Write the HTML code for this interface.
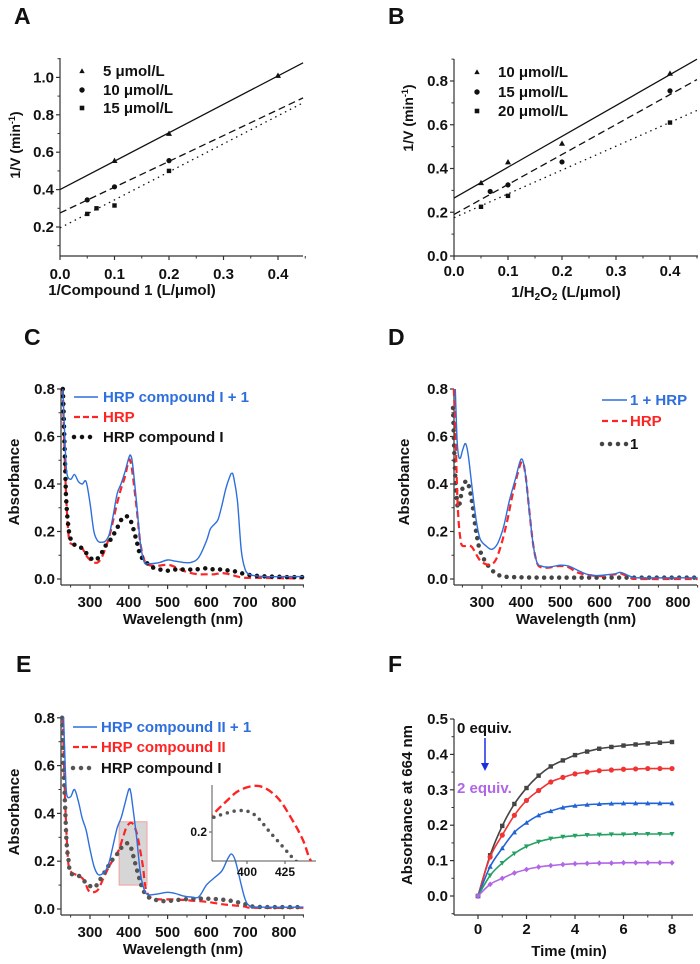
<!DOCTYPE html>
<html><head><meta charset="utf-8"><style>
html,body{margin:0;padding:0;background:#fff;}
svg{display:block;font-family:"Liberation Sans",Arial,sans-serif;font-weight:bold;}
</style></head><body>
<svg id="fig" width="700" height="964" viewBox="0 0 700 964" xmlns="http://www.w3.org/2000/svg"></svg>
<script>
// ---------- Panel A data ----------
const aX5=[0.1,0.2,0.4], aY5=[0.555,0.70,1.01];
const aX10=[0.05,0.1,0.2], aY10=[0.345,0.415,0.555];
const aX15=[0.05,0.067,0.1,0.2], aY15=[0.27,0.30,0.315,0.50];
const aIntercepts=[0.40,0.275,0.195], aSlopes=[1.52,1.38,1.5];
const aLegend=["5   μmol/L","10 μmol/L","15 μmol/L"];
// ---------- Panel B data ----------
const bX10=[0.05,0.1,0.2,0.4], bY10=[0.335,0.43,0.515,0.835];
const bX15=[0.067,0.1,0.2,0.4], bY15=[0.295,0.325,0.43,0.755];
const bX20=[0.05,0.1,0.4], bY20=[0.225,0.275,0.61];
const bIntercepts=[0.265,0.19,0.175], bSlopes=[1.41,1.37,1.09];
const bLegend=["10 μmol/L","15 μmol/L","20 μmol/L"];
const xTicksAB=[0,0.1,0.2,0.3,0.4];
// ---------- Panel C data ----------
const cBlueW=[230,235,240,250,260,270,280,290,300,310,320,330,340,350,360,370,380,390,400,405,410,420,430,440,450,460,480,500,520,540,560,580,600,610,620,630,640,650,660,665,670,680,690,700,710,720,750,800,850];
const cBlueA=[0.8,0.6,0.45,0.42,0.44,0.41,0.40,0.41,0.32,0.2,0.16,0.155,0.16,0.19,0.27,0.36,0.40,0.45,0.51,0.52,0.48,0.32,0.15,0.07,0.065,0.065,0.07,0.08,0.075,0.07,0.07,0.09,0.16,0.21,0.23,0.25,0.31,0.38,0.43,0.445,0.43,0.33,0.12,0.04,0.02,0.015,0.01,0.01,0.01];
const cRedW=[230,235,240,245,250,260,270,280,290,300,310,320,330,340,350,360,370,380,390,400,405,410,420,430,440,450,470,500,520,540,560,580,600,620,640,660,680,700,720,800,850];
const cRedA=[0.8,0.5,0.3,0.18,0.15,0.145,0.14,0.13,0.1,0.08,0.07,0.07,0.09,0.13,0.18,0.25,0.32,0.38,0.43,0.5,0.49,0.44,0.3,0.15,0.08,0.06,0.055,0.06,0.05,0.035,0.025,0.02,0.02,0.02,0.025,0.02,0.01,0.005,0.005,0.003,0.003];
const cBlkW=[230,232,234,236,238,240,243,247,255,270,285,300,315,330,340,355,365,375,385,400,410,420,430,445,460,480,500,520,540,570,600,620,640,660,680,700,720,740,760,780,800,820,850];
const cBlkA=[0.8,0.7,0.58,0.47,0.36,0.3,0.24,0.19,0.15,0.14,0.12,0.09,0.08,0.11,0.14,0.17,0.2,0.23,0.26,0.26,0.22,0.16,0.1,0.07,0.05,0.04,0.035,0.04,0.04,0.04,0.045,0.04,0.04,0.035,0.03,0.02,0.015,0.012,0.01,0.01,0.008,0.008,0.008];
// ---------- Panel D data ----------
const dBlueW=[232,236,240,245,250,258,265,275,285,295,310,325,340,355,370,385,400,410,420,430,440,450,470,500,520,540,560,580,600,620,640,650,660,680,700,850];
const dBlueA=[0.8,0.6,0.52,0.51,0.54,0.57,0.52,0.38,0.25,0.17,0.14,0.125,0.15,0.22,0.33,0.42,0.505,0.45,0.3,0.15,0.07,0.055,0.05,0.058,0.055,0.04,0.025,0.015,0.015,0.018,0.022,0.028,0.025,0.01,0.005,0.005];
const dRedW=[228,232,236,240,245,250,270,280,290,300,320,335,350,365,380,400,410,420,430,440,450,470,500,520,540,560,580,600,620,640,650,660,680,700,850];
const dRedA=[0.8,0.65,0.4,0.25,0.17,0.14,0.14,0.12,0.09,0.07,0.06,0.08,0.15,0.25,0.37,0.49,0.45,0.3,0.15,0.07,0.05,0.048,0.055,0.05,0.03,0.02,0.015,0.012,0.015,0.02,0.025,0.02,0.005,0.0,0.0];
const dBlkW=[226,230,235,240,250,258,265,275,285,295,310,330,350,380,450,600,850];
const dBlkA=[0.72,0.5,0.35,0.3,0.38,0.41,0.4,0.32,0.2,0.12,0.07,0.03,0.012,0.008,0.006,0.006,0.006];
// ---------- Panel E data ----------
const eBlueW=[232,236,240,250,260,270,280,290,300,310,320,330,340,350,360,370,380,390,400,405,410,420,430,440,450,470,500,520,540,560,580,600,620,640,655,665,675,690,700,710,730,850];
const eBlueA=[0.8,0.6,0.48,0.47,0.5,0.45,0.38,0.33,0.25,0.18,0.145,0.145,0.16,0.2,0.27,0.34,0.38,0.44,0.5,0.49,0.43,0.3,0.15,0.08,0.06,0.062,0.07,0.065,0.055,0.05,0.05,0.1,0.13,0.16,0.21,0.23,0.2,0.1,0.04,0.015,0.008,0.008];
const eRedW=[230,235,240,245,255,270,285,295,305,320,335,350,365,375,385,395,408,420,430,437,442,450,460,480,520,560,600,640,670,700,720,850];
const eRedA=[0.8,0.5,0.3,0.18,0.15,0.14,0.12,0.08,0.07,0.08,0.13,0.18,0.22,0.25,0.3,0.345,0.36,0.32,0.24,0.17,0.1,0.06,0.045,0.04,0.04,0.035,0.03,0.02,0.015,0.01,0.005,0.005];
const eBlkW=[228,232,236,240,245,250,270,290,310,325,340,355,370,380,395,405,415,425,432,440,455,480,500,540,580,620,660,700,720,760,850];
const eBlkA=[0.8,0.6,0.42,0.27,0.2,0.15,0.14,0.11,0.09,0.12,0.16,0.2,0.23,0.255,0.275,0.26,0.2,0.14,0.1,0.07,0.045,0.035,0.033,0.04,0.043,0.042,0.035,0.02,0.01,0.008,0.008];
const xTicksSpec=[300,400,500,600,700,800];
const yTicksSpec=[0,0.2,0.4,0.6,0.8];
// ---------- Panel F data ----------
const fTime=[0,0.5,1,1.5,2,2.5,3,3.5,4,4.5,5,5.5,6,6.5,7,7.5,8];
const f0=[0,0.115,0.198,0.26,0.305,0.34,0.366,0.383,0.398,0.408,0.416,0.421,0.425,0.428,0.431,0.433,0.435];
const f1=[0,0.11,0.172,0.228,0.27,0.298,0.322,0.335,0.345,0.35,0.354,0.356,0.358,0.359,0.36,0.36,0.36];
const f2=[0,0.083,0.135,0.18,0.207,0.228,0.24,0.25,0.255,0.258,0.26,0.261,0.262,0.262,0.262,0.262,0.262];
const f3=[0,0.058,0.093,0.12,0.14,0.153,0.162,0.167,0.17,0.172,0.173,0.174,0.174,0.175,0.175,0.175,0.175];
const f4=[0,0.033,0.05,0.065,0.075,0.082,0.086,0.089,0.091,0.092,0.093,0.093,0.094,0.094,0.094,0.094,0.094];
const fXTicks=[0,2,4,6,8], fYTicks=[0,0.1,0.2,0.3,0.4,0.5];

const NS="http://www.w3.org/2000/svg";
const svg=document.getElementById('fig');
function mk(tag,parent,attrs){const e=document.createElementNS(NS,tag);for(const k in attrs)e.setAttribute(k,attrs[k]);parent.appendChild(e);return e;}
function group(parent,name){const g=mk('g',parent,{});


return g;}
function txt(parent,x,y,s,size,name,anchor,fill,rot){const t=mk('text',parent,{x:x,y:y,'font-size':size,'text-anchor':anchor||'start',fill:fill||'#111'});
if(rot)t.setAttribute('transform','rotate(-90 '+x+' '+y+')');
t.textContent=s;


return t;}
function ln(parent,x1,y1,x2,y2,stroke,w,dash,name){const l=mk('line',parent,{x1:x1,y1:y1,x2:x2,y2:y2,stroke:stroke,'stroke-width':w});
if(dash)l.setAttribute('stroke-dasharray',dash);


return l;}
function smooth(pts){let d='M'+pts[0][0].toFixed(1)+','+pts[0][1].toFixed(1);
for(let i=0;i<pts.length-1;i++){const p0=pts[Math.max(0,i-1)],p1=pts[i],p2=pts[i+1],p3=pts[Math.min(pts.length-1,i+2)];
const c1=[p1[0]+(p2[0]-p0[0])/6,p1[1]+(p2[1]-p0[1])/6],c2=[p2[0]-(p3[0]-p1[0])/6,p2[1]-(p3[1]-p1[1])/6];
d+='C'+c1[0].toFixed(1)+','+c1[1].toFixed(1)+' '+c2[0].toFixed(1)+','+c2[1].toFixed(1)+' '+p2[0].toFixed(1)+','+p2[1].toFixed(1);}
return d;}
function curve(parent,xs,ys,sx,sy,stroke,w,dash,name,cap){const pts=xs.map((v,i)=>[sx(v),sy(ys[i])]);
const p=mk('path',parent,{d:smooth(pts),fill:'none',stroke:stroke,'stroke-width':w,'stroke-linejoin':'round'});
if(dash)p.setAttribute('stroke-dasharray',dash);
if(cap)p.setAttribute('stroke-linecap',cap);


return p;}
function marker(parent,type,x,y,r,fill,name){let e;
if(type==='tri')e=mk('polygon',parent,{points:`${x},${y-r} ${x-r},${y+r*0.8} ${x+r},${y+r*0.8}`,fill:fill});
else if(type==='dtri')e=mk('polygon',parent,{points:`${x},${y+r} ${x-r},${y-r*0.8} ${x+r},${y-r*0.8}`,fill:fill});
else if(type==='sq')e=mk('rect',parent,{x:x-r*0.85,y:y-r*0.85,width:r*1.7,height:r*1.7,fill:fill});
else if(type==='dia')e=mk('polygon',parent,{points:`${x},${y-r*1.1} ${x+r},${y} ${x},${y+r*1.1} ${x-r},${y}`,fill:fill});
else e=mk('circle',parent,{cx:x,cy:y,r:r,fill:fill});


return e;}
function axes(g,o){
 ln(g,o.xl,o.yb,o.xr,o.yb,'#333',1.2,null,'x-axis');
 ln(g,o.xl,o.yb,o.xl,o.ytop,'#333',1.2,null,'y-axis');
 o.xt.forEach(v=>{const x=o.sx(v);ln(g,x,o.yb,x,o.yb+4,'#333',1.2,null,'x-tick');
  txt(g,x,o.xlabY,o.xfmt(v),o.fs,'x-tick-label','middle');});
 o.xm.forEach(v=>{const x=o.sx(v);ln(g,x,o.yb,x,o.yb+2.5,'#333',1,null,'x-minor-tick');});
 o.yticks.forEach(v=>{const y=o.sy(v);ln(g,o.xl-4,y,o.xl,y,'#333',1.2,null,'y-tick');
  txt(g,o.xl-6,y+5,o.yfmt(v),o.fs,'y-tick-label','end');});
 o.ym.forEach(v=>{const y=o.sy(v);ln(g,o.xl-2.5,y,o.xl,y,'#333',1,null,'y-minor-tick');});
}
const f1d=v=>v.toFixed(1);
function range(a,b,s){const r=[];for(let v=a;v<=b+1e-9;v+=s)r.push(+v.toFixed(4));return r;}

// ================= Panel A =================
(function(){const g=group(svg,'panel-a');
const sx=v=>60+v*545, sy=v=>264.4-187*v;
txt(g,14,24,'A',23,'panel-label-a');
axes(g,{xl:60,xr:303,yb:256,ytop:58,sx,sy,xt:xTicksAB,xm:range(0.05,0.45,0.1),yticks:[0.2,0.4,0.6,0.8,1.0],ym:range(0.1,1.1,0.2),xfmt:f1d,yfmt:f1d,xlabY:279,fs:15});
txt(g,132,295,'1/Compound 1 (L/μmol)',15,'x-axis-title','middle');
const yt=txt(g,20,145,'1/V (min',14,'y-axis-title','middle','#111',true);
const ts=mk('tspan',yt,{'font-size':9,dy:-5});ts.textContent='-1';const ts2=mk('tspan',yt,{dy:5});ts2.textContent=')';
const styles=[null,'7 4','1.5 4'];
for(let i=0;i<3;i++){ln(g,sx(0),sy(aIntercepts[i]),sx(0.446),sy(aIntercepts[i]+aSlopes[i]*0.446),'#111',1.3,styles[i],'fit-line-'+i);}
aX5.forEach((v,i)=>marker(g,'tri',sx(v),sy(aY5[i]),3,'#111','point-5um'));
aX10.forEach((v,i)=>marker(g,'circ',sx(v),sy(aY10[i]),2.6,'#111','point-10um'));
aX15.forEach((v,i)=>marker(g,'sq',sx(v),sy(aY15[i]),2.6,'#111','point-15um'));
const lt=['tri','circ','sq'],ly=[71,90,108];
for(let i=0;i<3;i++){marker(g,lt[i],82,ly[i],2.7,'#111','legend-marker');txt(g,103,ly[i]+5,aLegend[i],15,'legend-entry');}
})();

// ================= Panel B =================
(function(){const g=group(svg,'panel-b');
const sx=v=>454+v*540, sy=v=>256-v*218.75;
txt(g,388,24,'B',23,'panel-label-b');
axes(g,{xl:454,xr:698,yb:256,ytop:59,sx,sy,xt:xTicksAB,xm:range(0.05,0.45,0.1),yticks:[0,0.2,0.4,0.6,0.8],ym:range(0.1,0.9,0.2),xfmt:f1d,yfmt:f1d,xlabY:276,fs:15});
const xt=txt(g,566,297,'1/H',15,'x-axis-title','middle');
let s=mk('tspan',xt,{'font-size':10,dy:3});s.textContent='2';s=mk('tspan',xt,{dy:-3});s.textContent='O';s=mk('tspan',xt,{'font-size':10,dy:3});s.textContent='2';s=mk('tspan',xt,{dy:-3});s.textContent=' (L/μmol)';
const yt=txt(g,413,118,'1/V (min',14,'y-axis-title','middle','#111',true);
let t1=mk('tspan',yt,{'font-size':9,dy:-5});t1.textContent='-1';t1=mk('tspan',yt,{dy:5});t1.textContent=')';
const styles=[null,'7 4','1.5 4'];
for(let i=0;i<3;i++){ln(g,sx(0),sy(bIntercepts[i]),sx(0.45),sy(bIntercepts[i]+bSlopes[i]*0.45),'#111',1.3,styles[i],'fit-line-'+i);}
bX10.forEach((v,i)=>marker(g,'tri',sx(v),sy(bY10[i]),3,'#111','point-10um'));
bX15.forEach((v,i)=>marker(g,'circ',sx(v),sy(bY15[i]),2.6,'#111','point-15um'));
bX20.forEach((v,i)=>marker(g,'sq',sx(v),sy(bY20[i]),2.6,'#111','point-20um'));
const lt=['tri','circ','sq'],ly=[72,92,111];
for(let i=0;i<3;i++){marker(g,lt[i],477,ly[i],2.7,'#111','legend-marker');txt(g,498,ly[i]+5,bLegend[i],15,'legend-entry');}
})();

const BLUE='#2d6fdc', RED='#ff2424';
function specAxes(g,yAxisX,sx,sy,labY,ybAxis,ytop,xr){
 axes(g,{xl:yAxisX,xr:xr,yb:ybAxis,ytop:ytop,sx,sy,xt:xTicksSpec,xm:range(250,850,100),yticks:yTicksSpec,ym:range(0.1,0.7,0.2),xfmt:v=>String(v),yfmt:f1d,xlabY:labY,fs:15});
}
// ================= Panel C =================
(function(){const g=group(svg,'panel-c');
const sx=v=>90+(v-300)*0.388, sy=v=>579-v*237.5;
txt(g,24,345,'C',23,'panel-label-c');
specAxes(g,61,sx,sy,607,585,389,304);
txt(g,183,624,'Wavelength (nm)',15,'x-axis-title','middle');
txt(g,19,482,'Absorbance',15,'y-axis-title','middle','#111',true);
curve(g,cRedW,cRedA,sx,sy,RED,2.2,'7 4','series-hrp');
curve(g,cBlkW,cBlkA,sx,sy,'#111',4.5,'0 7.5','series-hrp-compound-i','round');
curve(g,cBlueW,cBlueA,sx,sy,BLUE,1.4,null,'series-hrp-compound-i-plus-1');
ln(g,74,397,98,397,BLUE,1.5,null,'legend-line');txt(g,103,402,'HRP compound I + 1',15,'legend-entry','start',BLUE);
ln(g,74,417,98,417,RED,2.2,'6 3','legend-line');txt(g,103,422,'HRP',15,'legend-entry','start',RED);
ln(g,74,437,98,437,'#111',4.5,'0 8','legend-line').setAttribute('stroke-linecap','round');txt(g,103,442,'HRP compound I',15,'legend-entry');
})();

// ================= Panel D =================
(function(){const g=group(svg,'panel-d');
const sx=v=>482+(v-300)*0.392, sy=v=>579-v*237.5;
txt(g,388,345,'D',23,'panel-label-d');
specAxes(g,454,sx,sy,607,585,389,697);
txt(g,576,624,'Wavelength (nm)',15,'x-axis-title','middle');
txt(g,409,482,'Absorbance',15,'y-axis-title','middle','#111',true);
curve(g,dBlkW,dBlkA,sx,sy,'#444',4.5,'0 7.5','series-1','round');
curve(g,dRedW,dRedA,sx,sy,RED,2.2,'7 4','series-hrp');
curve(g,dBlueW,dBlueA,sx,sy,BLUE,1.4,null,'series-1-plus-hrp');
ln(g,602,400,627,400,BLUE,1.5,null,'legend-line');txt(g,630,405,'1 + HRP',15,'legend-entry','start',BLUE);
ln(g,602,421,627,421,RED,2.2,'6 4','legend-line');txt(g,630,426,'HRP',15,'legend-entry','start',RED);
ln(g,602,444,627,444,'#444',4.5,'0 8','legend-line').setAttribute('stroke-linecap','round');txt(g,630,449,'1',15,'legend-entry');
})();

// ================= Panel E =================
(function(){const g=group(svg,'panel-e');
const sx=v=>90+(v-300)*0.388, sy=v=>909-v*239;
txt(g,16,672,'E',23,'panel-label-e');
specAxes(g,61,sx,sy,937,915,718,304);
txt(g,183,954,'Wavelength (nm)',15,'x-axis-title','middle');
txt(g,19,812,'Absorbance',15,'y-axis-title','middle','#111',true);
const r=mk('rect',g,{x:sx(375),y:sy(0.365),width:sx(447)-sx(375),height:sy(0.1)-sy(0.365),fill:'#d6d6d6',stroke:'#f4a0a0','stroke-width':1});


curve(g,eRedW,eRedA,sx,sy,RED,2.2,'7 4','series-hrp-compound-ii');
curve(g,eBlkW,eBlkA,sx,sy,'#555',4.5,'0 7.5','series-hrp-compound-i','round');
curve(g,eBlueW,eBlueA,sx,sy,BLUE,1.4,null,'series-hrp-compound-ii-plus-1');
ln(g,73,727,97,727,BLUE,1.5,null,'legend-line');txt(g,101,732,'HRP compound II + 1',15,'legend-entry','start',BLUE);
ln(g,73,747,97,747,RED,2.2,'6 3','legend-line');txt(g,101,752,'HRP compound II',15,'legend-entry','start',RED);
ln(g,73,768,97,768,'#555',4.5,'0 8','legend-line').setAttribute('stroke-linecap','round');txt(g,101,773,'HRP compound I',15,'legend-entry');
const ig=group(g,'inset');
const ix=v=>247+(v-400)*1.52, iy=v=>832-(v-0.2)*287;
const cp=mk('clipPath',ig,{id:'insetclip'});mk('rect',cp,{x:212,y:780,width:104,height:81});
ln(ig,212,861,316,861,'#555',1,null,'inset-x-axis');ln(ig,212,861,212,785,'#555',1,null,'inset-y-axis');
[400,425].forEach(v=>{ln(ig,ix(v),861,ix(v),864,'#555',1,null,'inset-x-tick');txt(ig,ix(v),876,String(v),12,'inset-x-tick-label','middle');});
ln(ig,209,iy(0.2),212,iy(0.2),'#555',1,null,'inset-y-tick');txt(ig,207,iy(0.2)+4,'0.2',12,'inset-y-tick-label','end');
const c1=curve(ig,eRedW,eRedA,ix,iy,RED,2.4,'8 4','inset-hrp-compound-ii');c1.setAttribute('clip-path','url(#insetclip)');
const c2=curve(ig,eBlkW,eBlkA,ix,iy,'#555',3.5,'0 7','inset-hrp-compound-i','round');c2.setAttribute('clip-path','url(#insetclip)');
})();

// ================= Panel F =================
(function(){const g=group(svg,'panel-f');
const sx=v=>478+v*24.25, sy=v=>896-v*354;
txt(g,388,672,'F',23,'panel-label-f');
axes(g,{xl:454,xr:693,yb:915,ytop:719,sx,sy,xt:fXTicks,xm:[1,3,5,7],yticks:fYTicks,ym:range(-0.05,0.45,0.1),xfmt:v=>String(v),yfmt:f1d,xlabY:934,fs:15});
txt(g,569,956,'Time (min)',15,'x-axis-title','middle');
txt(g,412,805,'Absorbance at 664 nm',15,'y-axis-title','middle','#111',true);
const series=[f0,f1,f2,f3,f4], cols=['#444','#f03434','#1f63d6','#25a063','#b066e6'], mks=['sq','circ','tri','dtri','dia'];
series.forEach((s,k)=>{curve(g,fTime,s,sx,sy,cols[k],1.6,null,'fit-curve-'+k);
 fTime.forEach((t,i)=>marker(g,mks[k],sx(t),sy(s[i]),2.6,cols[k],'point-series-'+k));});
txt(g,457,733,'0 equiv.',15,'label-0-equiv');
ln(g,485,738,485,764,'#1a2fe0',1.5,null,'arrow-shaft');
const ah=mk('polygon',g,{points:'481,763 489,763 485,771',fill:'#1a2fe0'});


txt(g,457,793,'2 equiv.',15,'label-2-equiv','start','#b066e6');
})();
</script>
</body></html>
